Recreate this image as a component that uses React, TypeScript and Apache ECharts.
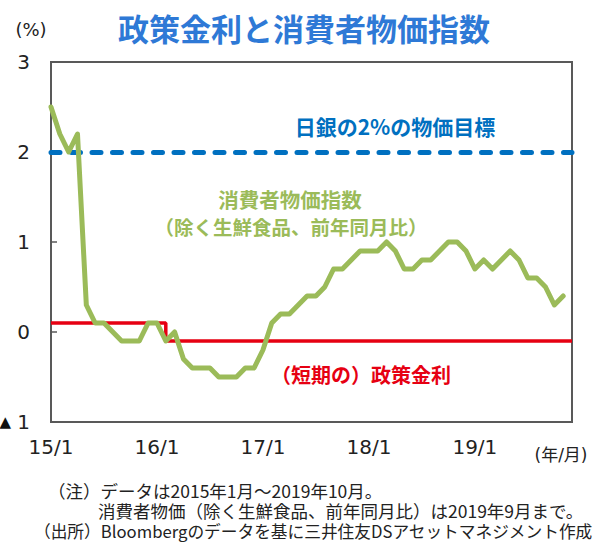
import React, { useEffect, useRef } from 'react';
import * as echarts from 'echarts';

// Monthly categories from 2015/1 onward (60 months)
const startYear = 15;
const monthCount = 60;
const categories: string[] = [];
for (let i = 0; i < monthCount; i++) {
  categories.push(`${startYear + Math.floor(i / 12)}/${(i % 12) + 1}`);
}

// 消費者物価指数（除く生鮮食品、前年同月比）, %
const cpi = [
  2.5, 2.2, 2.0, 2.2, 0.3, 0.1, 0.1, 0.0, -0.1, -0.1, -0.1, 0.1,
  0.1, -0.1, 0.0, -0.3, -0.4, -0.4, -0.4, -0.5, -0.5, -0.5, -0.4, -0.4,
  -0.2, 0.1, 0.2, 0.2, 0.3, 0.4, 0.4, 0.5, 0.7, 0.7, 0.8, 0.9,
  0.9, 0.9, 1.0, 0.9, 0.7, 0.7, 0.8, 0.8, 0.9, 1.0, 1.0, 0.9,
  0.7, 0.8, 0.7, 0.8, 0.9, 0.8, 0.6, 0.6, 0.5, 0.3, 0.4,
];

// （短期の）政策金利, %
const policyRate = [
  0.1, 0.1, 0.1, 0.1, 0.1, 0.1, 0.1, 0.1, 0.1, 0.1, 0.1, 0.1,
  0.1, -0.1, -0.1, -0.1, -0.1, -0.1, -0.1, -0.1, -0.1, -0.1, -0.1, -0.1,
  -0.1, -0.1, -0.1, -0.1, -0.1, -0.1, -0.1, -0.1, -0.1, -0.1, -0.1, -0.1,
  -0.1, -0.1, -0.1, -0.1, -0.1, -0.1, -0.1, -0.1, -0.1, -0.1, -0.1, -0.1,
  -0.1, -0.1, -0.1, -0.1, -0.1, -0.1, -0.1, -0.1, -0.1, -0.1, -0.1, -0.1,
];

// 日銀の物価目標, %
const priceTarget = 2;

const yMin = -1;
const yMax = 3;
const yInterval = 1;

const JP = '"Noto Sans CJK JP", sans-serif';
const LAT = '"DejaVu Sans", "Noto Sans CJK JP", sans-serif';

function txt(text: string, x: number, y: number, font: string, fill: string, align = 'center') {
  return {
    type: 'text',
    x,
    y,
    silent: true,
    style: {
      text,
      font,
      fill,
      textAlign: align,
      textVerticalAlign: 'middle',
      align,
      verticalAlign: 'middle',
    },
  };
}

export default function App() {
  const ref = useRef<HTMLDivElement>(null);
  useEffect(() => {
    if (!ref.current) return;
    const chart = echarts.init(ref.current, undefined, { renderer: 'svg' });
    chart.setOption({
      animation: false,
      backgroundColor: '#ffffff',
      grid: {
        left: 51,
        right: 30,
        top: 62,
        bottom: 123,
        show: true,
        borderColor: '#595959',
        borderWidth: 2,
        backgroundColor: 'transparent',
        containLabel: false,
        outerBoundsMode: 'none',
      },
      xAxis: {
        type: 'category',
        boundaryGap: false,
        data: categories,
        axisLine: { show: true, onZero: false, lineStyle: { color: '#595959', width: 2 } },
        axisTick: { show: false },
        splitLine: { show: false },
        axisLabel: {
          interval: (i: number) => i % 12 === 0,
          color: '#222222',
          fontSize: 20,
          fontFamily: LAT,
          margin: 15,
          hideOverlap: false,
        },
      },
      yAxis: {
        type: 'value',
        min: yMin,
        max: yMax,
        interval: yInterval,
        axisLine: { show: true, lineStyle: { color: '#595959', width: 2 } },
        axisTick: { show: true, inside: true, length: 6, lineStyle: { color: '#595959', width: 1.5 } },
        splitLine: { show: false },
        axisLabel: {
          color: '#222222',
          fontSize: 20,
          fontFamily: LAT,
          margin: 21,
          formatter: (v: number) => (v < 0 ? '{tri|▲} ' + Math.abs(v) : String(v)),
          rich: {
            tri: { fontSize: 15, fontFamily: LAT, color: '#111111', verticalAlign: 'middle' },
          },
        },
      },
      series: [
        {
          name: '政策金利',
          type: 'line',
          data: policyRate,
          step: 'end',
          showSymbol: false,
          symbol: 'none',
          lineStyle: { color: '#E60012', width: 3.5 },
          z: 2,
          markLine: {
            silent: true,
            symbol: ['none', 'none'],
            label: { show: false },
            data: [{ yAxis: priceTarget }],
            lineStyle: { color: '#0070C0', width: 5, type: [9, 11.5], cap: 'round' },
            z: 1,
          },
        },
        {
          name: '消費者物価指数',
          type: 'line',
          data: cpi,
          showSymbol: false,
          symbol: 'none',
          lineStyle: { color: '#9BBB59', width: 5, join: 'round', cap: 'round' },
          z: 3,
        },
      ],
      graphic: [
        txt('(%)', 31, 29, `18px ${LAT}`, '#222222'),
        txt('政策金利と消費者物価指数', 304, 27, `bold 31px ${JP}`, '#2E79D6'),
        txt('日銀の2%の物価目標', 395, 126, `bold 21px ${JP}`, '#0070C0'),
        txt('消費者物価指数', 290, 199, `bold 20.5px ${JP}`, '#9BBB59'),
        txt('（除く生鮮食品、前年同月比）', 291, 226, `bold 19.5px ${JP}`, '#9BBB59'),
        txt('（短期の）政策金利', 361, 374, `bold 20px ${JP}`, '#E60012'),
        txt('(年/月)', 561, 455, `17px ${LAT}`, '#222222'),
        txt('（注）データは2015年1月～2019年10月。', 48, 490, `17.5px ${JP}`, '#222222', 'left'),
        txt('消費者物価（除く生鮮食品、前年同月比）は2019年9月まで。', 98, 510, `17.5px ${JP}`, '#222222', 'left'),
        txt('（出所）Bloombergのデータを基に三井住友DSアセットマネジメント作成', 34, 531, `16.7px ${JP}`, '#222222', 'left'),
      ],
    });
    return () => chart.dispose();
  }, []);
  return (
    <div
      ref={ref}
      style={{ position: 'fixed', left: 0, top: 0, width: 602, height: 545, background: '#fff' }}
    />
  );
}
